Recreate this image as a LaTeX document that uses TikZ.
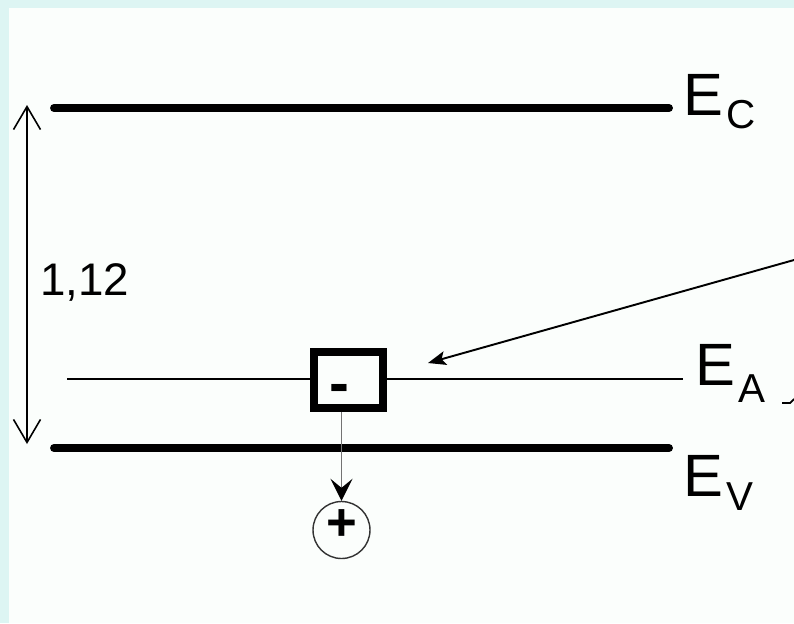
\documentclass[tikz,border=0pt]{standalone}
\usepackage{fontspec}
\setmainfont{Liberation Sans}
\usetikzlibrary{arrows.meta,positioning}
\definecolor{frame}{HTML}{DDF5F3}
\definecolor{paper}{HTML}{FBFEFC}
% E with a lowered subscript
\newcommand{\bandsym}[2]{E\kern1.6pt\raisebox{#2}{\fontsize{23}{23}\selectfont #1}}

\begin{document}
\begin{tikzpicture}[
  x=0.02cm, y=-0.02cm,
  band/.style={line width=4.5pt, line cap=round},
  level/.style={line width=1pt},
  bandname/.style={anchor=base west, inner sep=0pt, font=\fontsize{34}{34}\selectfont},
  gaparrow/.style={{Straight Barb[length=4.6mm,width=5.4mm]}-{Straight Barb[length=4.6mm,width=5.4mm]}, line width=0.9pt},
  acceptor/.style={rectangle, draw, line width=4.5pt, fill=paper,
    minimum width=1.38cm, minimum height=1.12cm, inner sep=0pt},
  hole/.style={circle, draw=black!80, line width=0.8pt, minimum size=1.14cm, inner sep=0pt},
  droparrow/.style={-{Stealth[length=4.4mm,width=4.4mm,inset=1.8mm,color=black]}, black!55, line width=1pt},
  pointer/.style={-{Stealth[length=3.6mm,width=2.8mm,inset=0.8mm]}, line width=1.1pt},
]
\useasboundingbox (0,0) rectangle (794,623);
\fill[frame] (0,0) rectangle (794,623);
\fill[paper] (9,8) rectangle (794,623);

% Band edges
\coordinate (ec-l) at (54,108);
\coordinate (ec-r) at (669,108);
\coordinate (ev-l) at (54,448);
\coordinate (ev-r) at (669,448);
\coordinate (ea-l) at (67,379);
\coordinate (ea-r) at (683,379);
\draw[band] (ec-l) -- (ec-r);
\draw[band] (ev-l) -- (ev-r);
\draw[level] (ea-l) -- (ea-r);

\node[bandname] (ec) at (683,115) {\bandsym{C}{-0.26cm}};
\node[bandname] (ea) at (695,385) {\bandsym{A}{-0.34cm}};
\node[bandname] (ev) at (683,496) {\bandsym{V}{-0.28cm}};

% Gap width
\coordinate (gap-top) at (27,105);
\coordinate (gap-bot) at (27,444);
\draw[gaparrow] (gap-top) -- (gap-bot);
\node[anchor=base west, inner sep=0pt, font=\fontsize{26}{26}\selectfont] (gap) at (40,295) {1,12};

% Acceptor level with captured electron
\node[acceptor] (acc) at (348.5,380) {};
\node[anchor=base, inner sep=0pt, font=\fontsize{34}{34}\selectfont\bfseries] (minus) at (339,403) {-};

% Hole left in the valence band
\node[hole] (hole) at (341.5,530) {};
\node[anchor=base, inner sep=0pt, font=\fontsize{30}{30}\selectfont\bfseries] (plus) at (342,540) {+};
\draw[droparrow] (acc.south -| hole.north) -- (hole.north);

% Pointer from the right
\coordinate (src) at (794,260);
\coordinate (tip) at (428,363);
\draw[pointer] (src) -- (tip);
\coordinate (cut) at (782,403);
\draw[level] (cut) -- (790,403) -- (794,399);
\end{tikzpicture}
\end{document}
